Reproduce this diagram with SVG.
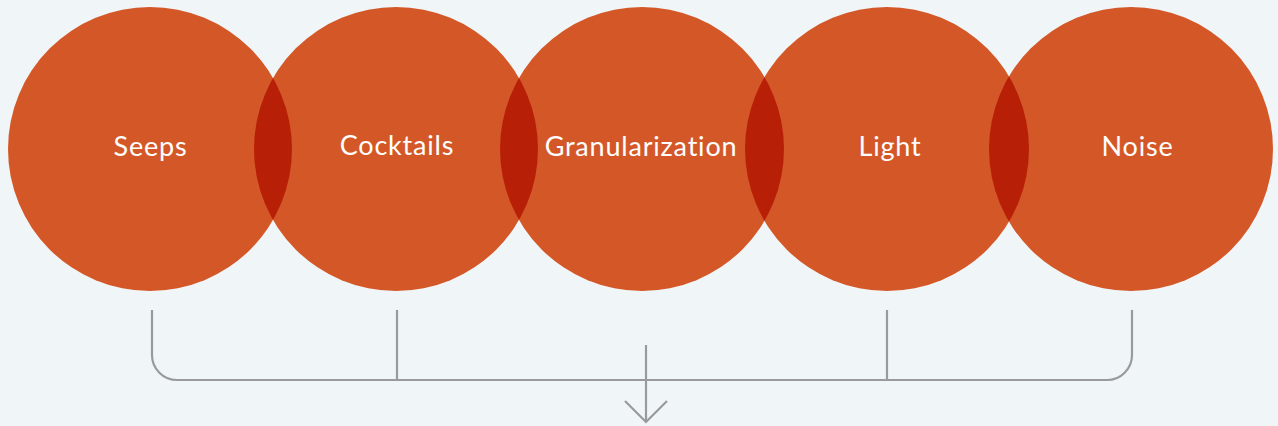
<svg xmlns="http://www.w3.org/2000/svg" width="1278" height="426" viewBox="0 0 1278 426">
<style>
.c{fill:#D45827}
.lens{fill:#B81F07}
.t{fill:#FFFFFF;font-family:Lato,"Noto Sans",sans-serif;font-size:27px;letter-spacing:0.8px;text-anchor:middle}
.ln{fill:none;stroke:#999A9E;stroke-width:2.2}
</style>
<defs>
<clipPath id="k1"><circle cx="150" cy="149" r="142"/></clipPath>
<clipPath id="k2"><circle cx="396" cy="149" r="142"/></clipPath>
<clipPath id="k3"><circle cx="642" cy="149" r="142"/></clipPath>
<clipPath id="k4"><circle cx="887" cy="149" r="142"/></clipPath>
</defs>
<rect width="1278" height="426" fill="#F0F5F8"/>
<g id="seeps"><circle class="c" cx="150" cy="149" r="142"/></g>
<g id="cocktails"><circle class="c" cx="396" cy="149" r="142"/></g>
<g id="granularization"><circle class="c" cx="642" cy="149" r="142"/></g>
<g id="light"><circle class="c" cx="887" cy="149" r="142"/></g>
<g id="noise"><circle class="c" cx="1131" cy="149" r="142"/></g>
<g id="overlaps">
<circle class="lens" cx="396" cy="149" r="142" clip-path="url(#k1)"/>
<circle class="lens" cx="642" cy="149" r="142" clip-path="url(#k2)"/>
<circle class="lens" cx="887" cy="149" r="142" clip-path="url(#k3)"/>
<circle class="lens" cx="1131" cy="149" r="142" clip-path="url(#k4)"/>
</g>
<g id="labels">
<text class="t" x="150.5" y="156">Seeps</text>
<text class="t" x="397" y="155">Cocktails</text>
<text class="t" x="641" y="156">Granularization</text>
<text class="t" x="890" y="156">Light</text>
<text class="t" x="1137.5" y="156">Noise</text>
</g>
<g id="connectors">
<path class="ln" d="M152 310 V355 A25 25 0 0 0 177 380 H1107 A25 25 0 0 0 1132 355 V310"/>
<path class="ln" d="M397 310 V380"/>
<path class="ln" d="M887 310 V380"/>
<path class="ln" d="M646 345 V421"/>
<path class="ln" d="M625 401 L646 422 L667 401"/>
</g>
</svg>
